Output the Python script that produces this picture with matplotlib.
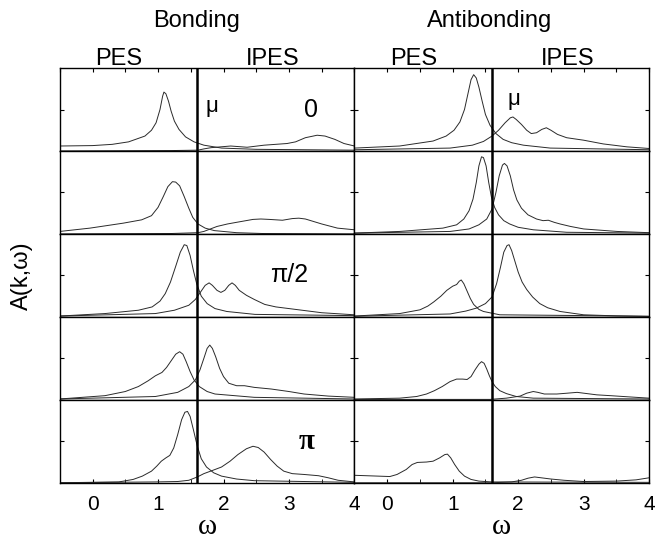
import matplotlib
matplotlib.use("Agg")
import matplotlib.pyplot as plt

plt.rcParams['font.family'] = ['Liberation Sans', 'DejaVu Sans']

# omega axis and chemical potential
w_min, w_max = -0.5, 4.0
mu = 1.6
w_ticks = [0, 1, 2, 3, 4]
k_labels = ["0", "", "π/2", "", "π"]

# spectral weight A(k, w), (omega, A) in units of one row height
# bonding band, rows top -> bottom
bond_pes_0 = [(-0.5, 0.06), (0.0, 0.065), (0.3, 0.08), (0.55, 0.11), (0.8, 0.18), (0.9, 0.25),
              (0.97, 0.34), (1.03, 0.5), (1.07, 0.66), (1.09, 0.71), (1.12, 0.69), (1.16, 0.6),
              (1.2, 0.48), (1.25, 0.36), (1.32, 0.26), (1.42, 0.17), (1.55, 0.11), (1.7, 0.07),
              (1.97, 0.035), (2.5, 0.02), (4.0, 0.01)]
bond_ipes_0 = [(-0.5, 0.0), (1.2, 0.005), (1.61, 0.01), (1.7, 0.025), (1.81, 0.04), (2.11, 0.06),
               (2.36, 0.045), (2.62, 0.07), (2.97, 0.09), (3.1, 0.11), (3.25, 0.16), (3.43, 0.19),
               (3.55, 0.18), (3.7, 0.14), (3.84, 0.09), (4.0, 0.06)]
bond_pes_1 = [(-0.5, 0.03), (-0.04, 0.07), (0.47, 0.13), (0.75, 0.17), (0.9, 0.22), (1.0, 0.32),
              (1.08, 0.45), (1.15, 0.57), (1.22, 0.63), (1.27, 0.625), (1.33, 0.58), (1.4, 0.45),
              (1.47, 0.31), (1.53, 0.2), (1.61, 0.12), (1.72, 0.07), (1.86, 0.04), (2.2, 0.015),
              (2.6, 0.005), (4.0, 0.0)]
bond_ipes_1 = [(-0.5, 0.0), (1.2, 0.005), (1.61, 0.015), (1.7, 0.03), (1.9, 0.09), (2.06, 0.12),
               (2.2, 0.14), (2.45, 0.175), (2.57, 0.18), (2.7, 0.175), (2.9, 0.165), (3.05, 0.185),
               (3.15, 0.19), (3.25, 0.18), (3.5, 0.12), (3.74, 0.07), (4.0, 0.05)]
bond_pes_2 = [(-0.5, 0.01), (0.19, 0.04), (0.7, 0.08), (0.91, 0.12), (1.03, 0.19), (1.11, 0.28),
              (1.19, 0.42), (1.27, 0.61), (1.34, 0.78), (1.40, 0.87), (1.44, 0.86), (1.49, 0.74),
              (1.54, 0.56), (1.59, 0.40), (1.66, 0.25), (1.75, 0.16), (1.87, 0.10), (2.05, 0.065),
              (2.48, 0.03), (4.0, 0.015)]
bond_ipes_2 = [(-0.5, 0.01), (0.96, 0.04), (1.25, 0.08), (1.47, 0.14), (1.57, 0.21), (1.65, 0.30),
               (1.72, 0.38), (1.78, 0.41), (1.83, 0.38), (1.9, 0.32), (1.96, 0.295), (2.02, 0.32),
               (2.08, 0.38), (2.13, 0.41), (2.18, 0.38), (2.24, 0.32), (2.35, 0.26), (2.47, 0.21),
               (2.63, 0.15), (2.8, 0.12), (3.0, 0.10), (3.5, 0.05), (4.0, 0.025)]
bond_pes_3 = [(-0.5, 0.01), (0.19, 0.05), (0.5, 0.10), (0.7, 0.16), (0.85, 0.23), (0.96, 0.29),
              (1.06, 0.33), (1.13, 0.39), (1.2, 0.47), (1.27, 0.55), (1.33, 0.58), (1.38, 0.55),
              (1.43, 0.46), (1.49, 0.34), (1.55, 0.24), (1.63, 0.16), (1.75, 0.1), (1.87, 0.07),
              (2.47, 0.03), (4.0, 0.01)]
bond_ipes_3 = [(-0.5, 0.01), (0.96, 0.04), (1.3, 0.09), (1.47, 0.16), (1.57, 0.24), (1.64, 0.36),
               (1.7, 0.5), (1.75, 0.62), (1.79, 0.66), (1.83, 0.62), (1.88, 0.52), (1.94, 0.38),
               (2.0, 0.28), (2.08, 0.2), (2.2, 0.17), (2.32, 0.17), (2.47, 0.15), (2.73, 0.13),
               (3.0, 0.10), (3.23, 0.07), (3.6, 0.045), (4.0, 0.03)]
bond_pes_4 = [(-0.5, 0.0), (0.4, 0.01), (0.62, 0.04), (0.76, 0.08), (0.9, 0.14), (0.98, 0.2),
              (1.05, 0.26), (1.12, 0.3), (1.18, 0.33), (1.24, 0.42), (1.3, 0.58), (1.36, 0.76),
              (1.41, 0.85), (1.45, 0.86), (1.49, 0.8), (1.54, 0.64), (1.6, 0.44), (1.66, 0.29),
              (1.74, 0.19), (1.85, 0.12), (1.97, 0.08), (2.2, 0.045), (2.47, 0.025), (4.0, 0.005)]
bond_ipes_4 = [(-0.5, 0.0), (0.96, 0.01), (1.3, 0.015), (1.47, 0.03), (1.6, 0.07), (1.7, 0.11),
               (1.82, 0.145), (1.97, 0.19), (2.1, 0.26), (2.22, 0.34), (2.35, 0.41), (2.45, 0.44),
               (2.53, 0.425), (2.62, 0.37), (2.72, 0.28), (2.82, 0.2), (2.92, 0.14), (3.05, 0.11),
               (3.23, 0.10), (3.45, 0.085), (3.6, 0.06), (3.75, 0.03), (4.0, 0.01)]

# antibonding band, rows top -> bottom
anti_pes_0 = [(-0.5, 0.035), (0.19, 0.06), (0.7, 0.12), (0.9, 0.18), (1.02, 0.25), (1.11, 0.35),
              (1.18, 0.5), (1.23, 0.68), (1.28, 0.86), (1.32, 0.92), (1.36, 0.88), (1.4, 0.77),
              (1.45, 0.6), (1.5, 0.44), (1.57, 0.31), (1.66, 0.21), (1.77, 0.14), (1.9, 0.1),
              (2.08, 0.07), (2.49, 0.035), (4.0, 0.015)]
anti_ipes_0 = [(-0.5, 0.015), (0.96, 0.035), (1.3, 0.07), (1.47, 0.115), (1.6, 0.18), (1.7, 0.25),
               (1.8, 0.34), (1.88, 0.40), (1.92, 0.41), (1.97, 0.38), (2.05, 0.32), (2.13, 0.25),
               (2.2, 0.21), (2.28, 0.22), (2.36, 0.26), (2.43, 0.28), (2.5, 0.25), (2.6, 0.2),
               (2.74, 0.16), (3.0, 0.13), (3.3, 0.085), (3.66, 0.05), (4.0, 0.03)]
anti_pes_1 = [(-0.5, 0.01), (0.19, 0.03), (0.85, 0.07), (1.06, 0.11), (1.17, 0.18), (1.25, 0.28),
              (1.31, 0.42), (1.36, 0.62), (1.4, 0.82), (1.44, 0.93), (1.47, 0.92), (1.51, 0.82),
              (1.55, 0.62), (1.59, 0.45), (1.64, 0.32), (1.7, 0.23), (1.78, 0.16), (1.87, 0.12),
              (2.0, 0.08), (2.23, 0.05), (2.74, 0.02), (4.0, 0.01)]
anti_ipes_1 = [(-0.5, 0.01), (0.96, 0.03), (1.25, 0.06), (1.4, 0.11), (1.52, 0.18), (1.6, 0.3),
               (1.66, 0.5), (1.71, 0.7), (1.76, 0.83), (1.79, 0.85), (1.83, 0.82), (1.88, 0.7),
               (1.93, 0.53), (1.98, 0.41), (2.05, 0.31), (2.15, 0.23), (2.28, 0.18), (2.38, 0.16),
               (2.46, 0.165), (2.55, 0.14), (2.64, 0.12), (2.8, 0.09), (3.0, 0.06), (3.51, 0.03),
               (4.0, 0.015)]
anti_pes_2 = [(-0.5, 0.01), (0.19, 0.04), (0.5, 0.085), (0.62, 0.13), (0.71, 0.18), (0.82, 0.25),
              (0.91, 0.32), (1.0, 0.37), (1.06, 0.39), (1.1, 0.43), (1.13, 0.445), (1.17, 0.4),
              (1.22, 0.31), (1.27, 0.22), (1.32, 0.15), (1.4, 0.09), (1.47, 0.065), (1.72, 0.025),
              (4.0, 0.008)]
anti_ipes_2 = [(-0.5, 0.008), (0.96, 0.035), (1.2, 0.07), (1.36, 0.105), (1.5, 0.16), (1.6, 0.24),
               (1.67, 0.4), (1.73, 0.6), (1.78, 0.78), (1.83, 0.86), (1.86, 0.87), (1.9, 0.8),
               (1.95, 0.67), (2.0, 0.54), (2.06, 0.42), (2.13, 0.33), (2.22, 0.24), (2.33, 0.16),
               (2.45, 0.11), (2.64, 0.065), (3.0, 0.025), (3.5, 0.012), (4.0, 0.005)]
anti_pes_3 = [(-0.5, 0.01), (0.19, 0.02), (0.45, 0.04), (0.6, 0.07), (0.72, 0.11), (0.84, 0.16),
              (0.96, 0.22), (1.06, 0.25), (1.15, 0.25), (1.22, 0.245), (1.28, 0.28), (1.34, 0.36),
              (1.4, 0.43), (1.44, 0.46), (1.48, 0.44), (1.52, 0.37), (1.56, 0.29), (1.6, 0.22),
              (1.65, 0.16), (1.72, 0.11), (1.82, 0.075), (1.97, 0.04), (2.23, 0.02), (4.0, 0.01)]
anti_ipes_3 = [(-0.5, 0.005), (1.57, 0.005), (1.82, 0.02), (2.03, 0.045), (2.13, 0.08), (2.23, 0.10),
               (2.3, 0.09), (2.4, 0.07), (2.59, 0.07), (2.75, 0.08), (2.9, 0.09), (3.05, 0.075),
               (3.2, 0.06), (3.41, 0.05), (3.7, 0.035), (4.0, 0.02)]
anti_pes_4 = [(-0.5, 0.09), (0.04, 0.075), (0.15, 0.1), (0.29, 0.16), (0.38, 0.22), (0.46, 0.245),
              (0.6, 0.25), (0.7, 0.26), (0.8, 0.3), (0.88, 0.34), (0.92, 0.345), (0.97, 0.3),
              (1.03, 0.22), (1.1, 0.14), (1.18, 0.08), (1.28, 0.04), (1.4, 0.02), (1.6, 0.01),
              (4.0, 0.005)]
anti_ipes_4 = [(-0.5, 0.0), (1.6, 0.0), (1.9, 0.01), (2.05, 0.03), (2.15, 0.055), (2.25, 0.07),
               (2.35, 0.06), (2.5, 0.045), (2.7, 0.03), (3.0, 0.015), (3.5, 0.02), (3.8, 0.035),
               (4.0, 0.06)]

bonding = [(bond_pes_0, bond_ipes_0), (bond_pes_1, bond_ipes_1), (bond_pes_2, bond_ipes_2),
           (bond_pes_3, bond_ipes_3), (bond_pes_4, bond_ipes_4)]
antibonding = [(anti_pes_0, anti_ipes_0), (anti_pes_1, anti_ipes_1), (anti_pes_2, anti_ipes_2),
               (anti_pes_3, anti_ipes_3), (anti_pes_4, anti_ipes_4)]

fig = plt.figure(figsize=(6.72, 5.40), dpi=100)
gs = fig.add_gridspec(5, 2, left=0.089, right=0.966, bottom=0.106, top=0.874,
                      wspace=0.0, hspace=0.0)

for col, band in enumerate([bonding, antibonding]):
    for row, (pes, ipes) in enumerate(band):
        ax = fig.add_subplot(gs[row, col])
        for curve in (pes, ipes):
            ax.plot([p[0] for p in curve], [p[1] for p in curve], color='#2a2a2a', lw=0.7)
        ax.axvline(mu, color='black', lw=1.8)
        ax.set_xlim(w_min, w_max)
        ax.set_ylim(0, 1)
        ax.set_yticks([0.5])
        ax.set_yticklabels([])
        ax.tick_params(axis='y', direction='in', length=3, left=True, right=True)
        ax.set_xticks([x / 2 for x in range(-1, 9)])
        ax.tick_params(axis='x', direction='in', length=3, top=(row == 0), bottom=(row == 4))
        if row == 4:
            ax.set_xticks(w_ticks, labels=[str(t) for t in w_ticks])
            ax.set_xticks([x / 2 for x in range(-1, 9, 2)], minor=True)
            ax.tick_params(axis='x', which='both', direction='in', length=3, top=False,
                           labelsize=15, pad=9)
            ax.set_xlabel("ω", fontsize=21, family='Liberation Serif', labelpad=0)
        else:
            ax.set_xticklabels([])
        for s in ax.spines.values():
            s.set_linewidth(1.0)

        if col == 0 and k_labels[row]:
            if row == 4:
                ax.text(3.27, 0.5, k_labels[row], fontsize=21, family='Liberation Serif',
                        weight='bold', ha='center', va='center')
            else:
                ax.text(3.33 if row == 0 else 3.0, 0.5, k_labels[row], fontsize=18,
                        ha='center', va='center')
        if row == 0:
            ax.text(1.72 if col == 0 else 1.84, 0.54 if col == 0 else 0.62, "μ",
                    fontsize=16, ha='left', va='center')
            ax.text(0.4, 1.04, "PES", fontsize=17, ha='center', va='baseline',
                    transform=ax.get_xaxis_transform())
            ax.text(2.75, 1.04, "IPES", fontsize=17, ha='center', va='baseline',
                    transform=ax.get_xaxis_transform())

fig.text(0.293, 0.95, "Bonding", fontsize=17, ha='center', va='baseline')
fig.text(0.729, 0.95, "Antibonding", fontsize=17, ha='center', va='baseline')
fig.text(0.032, 0.49, "A(k,ω)", fontsize=17, rotation=90, ha='center', va='center')

fig.savefig("out.png", dpi=100)
